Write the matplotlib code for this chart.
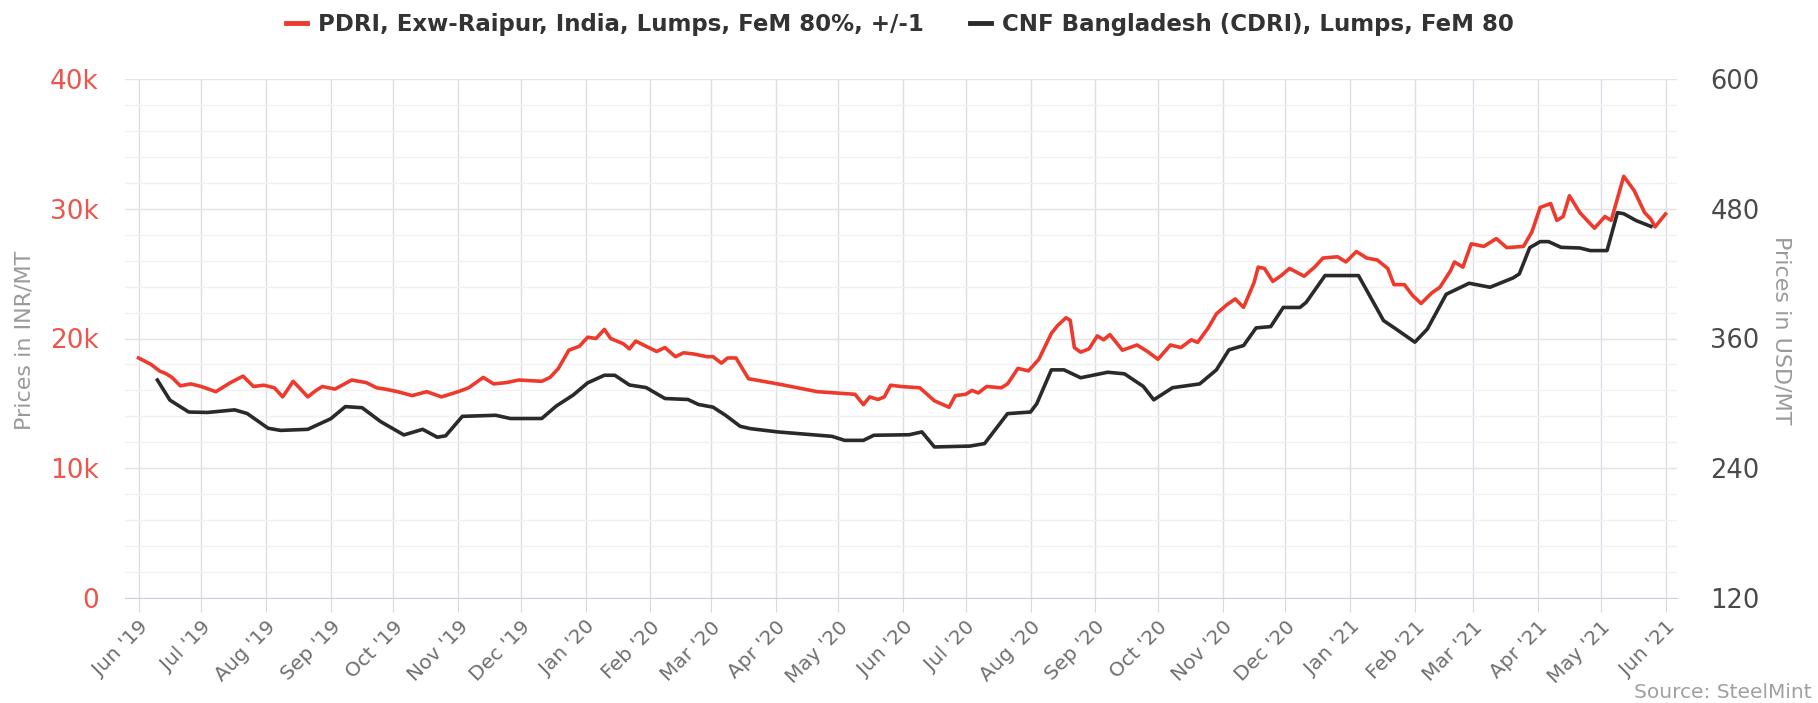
import numpy as np
import pandas as pd
import matplotlib
matplotlib.use("Agg")
import matplotlib.pyplot as plt
import matplotlib.dates as mdates
from matplotlib.ticker import FixedLocator, FuncFormatter, MultipleLocator

plt.rcParams['font.family'] = ['DejaVu Sans']

# PDRI, Exw-Raipur (INR/MT)
pdri_dates = ['2019-06-01', '2019-06-07', '2019-06-11', '2019-06-14', '2019-06-17', '2019-06-21',
              '2019-06-26', '2019-07-01', '2019-07-08', '2019-07-15', '2019-07-21', '2019-07-26',
              '2019-07-31', '2019-08-05', '2019-08-09', '2019-08-14', '2019-08-17', '2019-08-21',
              '2019-08-25', '2019-08-28', '2019-09-03', '2019-09-11', '2019-09-18', '2019-09-23',
              '2019-09-27', '2019-10-03', '2019-10-10', '2019-10-17', '2019-10-24', '2019-11-01',
              '2019-11-06', '2019-11-13', '2019-11-18', '2019-11-24', '2019-11-30', '2019-12-11',
              '2019-12-15', '2019-12-19', '2019-12-24', '2019-12-29', '2020-01-02', '2020-01-06',
              '2020-01-10', '2020-01-13', '2020-01-19', '2020-01-22', '2020-01-25', '2020-01-30',
              '2020-02-04', '2020-02-08', '2020-02-13', '2020-02-17', '2020-02-22', '2020-02-28',
              '2020-03-02', '2020-03-06', '2020-03-09', '2020-03-13', '2020-03-19', '2020-04-02',
              '2020-04-21', '2020-05-09', '2020-05-13', '2020-05-16', '2020-05-20', '2020-05-23',
              '2020-05-26', '2020-05-31', '2020-06-09', '2020-06-16', '2020-06-23', '2020-06-26',
              '2020-07-01', '2020-07-04', '2020-07-07', '2020-07-11', '2020-07-18', '2020-07-21',
              '2020-07-26', '2020-07-31', '2020-08-05', '2020-08-11', '2020-08-14', '2020-08-18',
              '2020-08-20', '2020-08-22', '2020-08-25', '2020-08-29', '2020-09-02', '2020-09-05',
              '2020-09-08', '2020-09-14', '2020-09-21', '2020-09-26', '2020-10-01', '2020-10-07',
              '2020-10-12', '2020-10-17', '2020-10-20', '2020-10-25', '2020-10-29', '2020-11-03',
              '2020-11-07', '2020-11-11', '2020-11-16', '2020-11-18', '2020-11-21', '2020-11-25',
              '2020-11-29', '2020-12-03', '2020-12-10', '2020-12-15', '2020-12-19', '2020-12-26',
              '2020-12-30', '2021-01-04', '2021-01-09', '2021-01-14', '2021-01-19', '2021-01-22',
              '2021-01-27', '2021-01-31', '2021-02-04', '2021-02-09', '2021-02-13', '2021-02-18',
              '2021-02-20', '2021-02-24', '2021-02-28', '2021-03-06', '2021-03-12', '2021-03-17',
              '2021-03-25', '2021-03-29', '2021-04-02', '2021-04-07', '2021-04-10', '2021-04-13',
              '2021-04-16', '2021-04-21', '2021-04-28', '2021-05-03', '2021-05-06', '2021-05-12',
              '2021-05-17', '2021-05-22', '2021-05-25', '2021-05-27', '2021-06-01']
pdri_inr = [18500, 18000, 17500, 17300, 17000, 16350,
            16500, 16300, 15900, 16600, 17100, 16300,
            16400, 16200, 15500, 16700, 16200, 15500,
            16000, 16300, 16100, 16800, 16600, 16200,
            16100, 15900, 15600, 15900, 15500, 15900,
            16200, 17000, 16500, 16600, 16800, 16700,
            17000, 17700, 19100, 19400, 20100, 20000,
            20700, 20000, 19600, 19200, 19800, 19400,
            19000, 19300, 18600, 18900, 18800, 18600,
            18600, 18100, 18500, 18500, 16900, 16500,
            15900, 15700, 14900, 15500, 15300, 15500,
            16400, 16300, 16200, 15200, 14700, 15600,
            15700, 16000, 15800, 16300, 16200, 16500,
            17700, 17500, 18400, 20400, 21000, 21600,
            21400, 19300, 18950, 19200, 20200, 19900,
            20300, 19100, 19500, 19000, 18400, 19500,
            19300, 19900, 19700, 20800, 21900, 22600,
            23050, 22400, 24300, 25500, 25400, 24400,
            24850, 25400, 24800, 25500, 26200, 26300,
            25900, 26700, 26200, 26050, 25400, 24150,
            24150, 23300, 22700, 23500, 23950, 25200,
            25900, 25500, 27300, 27100, 27700, 27000,
            27100, 28200, 30100, 30400, 29100, 29400,
            31000, 29700, 28500, 29400, 29100, 32500,
            31400, 29700, 29200, 28600, 29600]

# CNF Bangladesh (CDRI) (USD/MT)
cdri_dates = ['2019-06-10', '2019-06-16', '2019-06-25', '2019-07-04', '2019-07-17', '2019-07-23',
              '2019-08-02', '2019-08-08', '2019-08-21', '2019-09-01', '2019-09-08', '2019-09-16',
              '2019-09-25', '2019-10-06', '2019-10-15', '2019-10-22', '2019-10-26', '2019-11-03',
              '2019-11-19', '2019-11-26', '2019-12-11', '2019-12-18', '2019-12-26', '2020-01-02',
              '2020-01-10', '2020-01-15', '2020-01-22', '2020-01-30', '2020-02-08', '2020-02-19',
              '2020-02-24', '2020-03-02', '2020-03-08', '2020-03-15', '2020-03-20', '2020-04-02',
              '2020-04-28', '2020-05-04', '2020-05-13', '2020-05-18', '2020-06-04', '2020-06-10',
              '2020-06-16', '2020-07-03', '2020-07-10', '2020-07-21', '2020-08-01', '2020-08-04',
              '2020-08-11', '2020-08-17', '2020-08-25', '2020-09-07', '2020-09-15', '2020-09-24',
              '2020-09-29', '2020-10-08', '2020-10-21', '2020-10-29', '2020-11-04', '2020-11-11',
              '2020-11-17', '2020-11-24', '2020-11-30', '2020-12-08', '2020-12-11', '2020-12-20',
              '2021-01-05', '2021-01-10', '2021-01-17', '2021-01-24', '2021-02-01', '2021-02-07',
              '2021-02-16', '2021-02-27', '2021-03-09', '2021-03-20', '2021-03-23', '2021-03-28',
              '2021-04-02', '2021-04-06', '2021-04-12', '2021-04-21', '2021-04-26', '2021-05-04',
              '2021-05-09', '2021-05-12', '2021-05-18', '2021-05-25']
cdri_usd = [321.6, 303, 292, 291.6, 294, 290.6,
            277, 275, 276, 285.8, 297, 296,
            283, 270.8, 276, 268.7, 270, 288,
            289, 286, 286, 297.6, 307.6, 319,
            326, 326, 317, 314.6, 304.5, 303.6,
            299, 296.5, 289, 278.8, 276.6, 273.6,
            269.5, 265.8, 265.8, 270.5, 271, 273.6,
            259.7, 260.5, 262.8, 290.5, 292, 299.7,
            331, 331, 323.7, 328.8, 327.3, 315.7,
            303.3, 314.5, 318, 331, 349.5, 353.5,
            369.8, 371, 388.7, 388.7, 393.5, 418.2,
            418.2, 400.9, 376.6, 367.4, 356.6, 368.8,
            400.9, 411.1, 407.4, 416, 419.7, 444,
            449.6, 449.6, 444.3, 443.7, 441.3, 441.3,
            476.4, 475.4, 469, 463.7]

inr_ticks = [0, 10000, 20000, 30000, 40000]
usd_ticks = [120, 240, 360, 480, 600]
month_ticks = pd.date_range('2019-06-01', '2021-06-01', freq='MS')

red = '#ee3a2c'
black = '#2a2a2a'
grid_c = '#e3e3e3'

fig = plt.figure(figsize=(18.18, 7.03), dpi=100)
ax = fig.add_axes([125/1818, 105/703, 1552/1818, 519/703])
ax2 = ax.twinx()

l1, = ax.plot(pd.to_datetime(pdri_dates), pdri_inr, color=red, lw=2.6, zorder=3,
              label='PDRI, Exw-Raipur, India, Lumps, FeM 80%, +/-1')
l2, = ax2.plot(pd.to_datetime(cdri_dates), cdri_usd, color=black, lw=2.6, zorder=3,
               label='CNF Bangladesh (CDRI), Lumps, FeM 80')

ax.set_xlim(pd.Timestamp('2019-05-25 12:00'), pd.Timestamp('2021-06-06 12:00'))
ax.set_ylim(0, 40000)
ax2.set_ylim(120, 600)

ax.yaxis.set_major_locator(FixedLocator(inr_ticks))
ax.yaxis.set_minor_locator(MultipleLocator(2000))
ax.yaxis.set_major_formatter(FuncFormatter(lambda v, p: '0' if v == 0 else f'{int(v/1000)}k'))
ax2.yaxis.set_major_locator(FixedLocator(usd_ticks))

ax.xaxis.set_major_locator(FixedLocator(mdates.date2num(month_ticks)))
ax.set_xticklabels([d.strftime("%b '%y") for d in month_ticks])

ax.grid(which='major', axis='y', color=grid_c, lw=1, zorder=0)
ax.grid(which='major', axis='x', color='#dcdde6', lw=1, zorder=0)
ax.grid(which='minor', axis='y', color='#f1f1f1', lw=1, zorder=0)
ax.set_axisbelow(True)

for a in (ax, ax2):
    for s in a.spines.values():
        s.set_visible(False)
ax.spines['bottom'].set_visible(True)
ax.spines['bottom'].set_color('#ccd0e0')

ax.tick_params(axis='y', which='both', length=0, pad=19, labelsize=19, labelcolor='#e9574d')
ax2.tick_params(axis='y', length=0, pad=24, labelsize=18.5, labelcolor='#4a4a4a')
ax.tick_params(axis='x', length=10, color='#d6d8e2', pad=4, labelsize=14.5, labelcolor='#6f6f6f')
for t in ax.get_xticklabels():
    t.set_rotation(45)
    t.set_ha('right')
    t.set_rotation_mode('anchor')

fig.text(25/1818, 1 - 340/703, 'Prices in INR/MT', rotation=90, ha='center', va='center',
         fontsize=16, color='#9a9a9a')
fig.text(1781/1818, 1 - 330/703, 'Prices in USD/MT', rotation=270, ha='center', va='center',
         fontsize=16, color='#9a9a9a')
fig.text(1812/1818, 1 - 692/703, 'Source: SteelMint', ha='right', va='center',
         fontsize=14.5, color='#a0a0a0')

fig.legend(handles=[l1, l2], loc='center', bbox_to_anchor=(900/1818, 1 - 25/703), ncol=2,
           frameon=False, handlelength=0.9, handletextpad=0.5, columnspacing=2.0,
           prop={'weight': 'bold', 'size': 16.5}, labelcolor='#333333')
for h in fig.legends[0].legend_handles:
    h.set_linewidth(3.5)

fig.savefig('out.png', dpi=100)
